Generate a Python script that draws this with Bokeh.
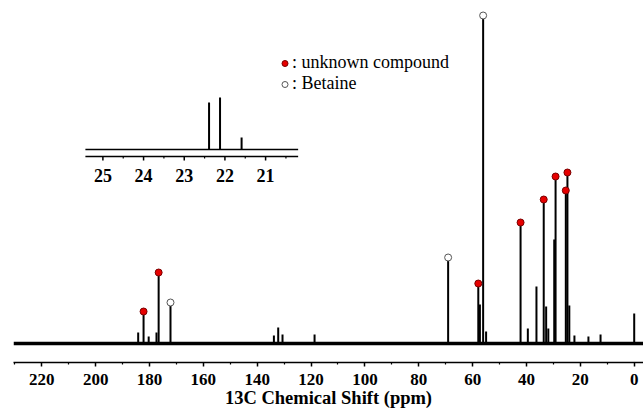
from bokeh.plotting import figure
from bokeh.models import Range1d, FixedTicker, Legend, LegendItem
from bokeh.embed import file_html
from bokeh.resources import INLINE
from bokeh.core.properties import value

# ---------------- data ----------------
unknown_ppm = [182.2, 176.6, 57.9, 42.2, 33.6, 29.2, 25.4, 24.8]
unknown_int = [32, 71, 60, 121, 144, 167, 153, 171]

betaine_ppm = [172.2, 69.1, 56.1]
betaine_int = [41, 86, 328]

other_ppm = [184.2, 180.3, 177.4, 133.8, 132.2, 130.6, 118.7, 57.3, 55.0,
             39.5, 36.3, 32.7, 31.9, 29.7, 24.1, 22.2, 17.0, 12.5, 0.0]
other_int = [11, 7, 11, 8, 16, 9, 9, 39, 12,
             15, 57, 37, 15, 104, 38, 8, 7, 9, 30]

x_ticks = [220, 200, 180, 160, 140, 120, 100, 80, 60, 40, 20, 0]
x_minor = [230, 210, 190, 170, 150, 130, 110, 90, 70, 50, 30, 10]

inset_ppm = [22.39, 22.12, 21.59]
inset_int = [47, 52, 12]
inset_ticks = [25, 24, 23, 22, 21]
inset_minor = [24.5, 23.5, 22.5, 21.5, 20.5]
inset_span = [25.43, 20.20]

legend_labels = [": unknown compound", ": Betaine"]
x_title = "13C Chemical Shift (ppm)"

# ---------------- layout ----------------
X_START, X_END = 230.5, -3.45
Y_START, Y_END = -19, 343
INSET_MAIN_X = (203.8, 124.8)   # main-axis span covered by inset
INSET_BASE_Y = 194              # main intensity where inset baseline sits

SERIF = "Liberation Serif"

p = figure(width=643, height=410, output_backend="svg", toolbar_location=None,
           x_range=Range1d(X_START, X_END), y_range=Range1d(Y_START, Y_END),
           y_axis_location=None,
           min_border_left=13, min_border_right=0, min_border_top=0,
           min_border_bottom=48)
p.grid.visible = False
p.outline_line_color = None
p.background_fill_color = "white"

ax = p.xaxis[0]
ax.ticker = FixedTicker(ticks=x_ticks, minor_ticks=x_minor)
ax.axis_line_width = 1.5
ax.axis_line_color = "black"
ax.major_tick_in = 0
ax.major_tick_out = 4
ax.minor_tick_in = 0
ax.minor_tick_out = 2
ax.major_tick_line_width = 1.5
ax.minor_tick_line_width = 1.2
ax.major_label_text_font = SERIF
ax.major_label_text_font_style = "bold"
ax.major_label_text_font_size = "17px"
ax.major_label_text_color = "black"
ax.major_label_standoff = 7
ax.axis_label = x_title
ax.axis_label_text_font = SERIF
ax.axis_label_text_font_style = "bold"
ax.axis_label_text_font_size = "18.5px"
ax.axis_label_text_color = "black"
ax.axis_label_standoff = 0

# main spectrum
p.line([X_START, X_END], [0, 0], line_color="black", line_width=3.5)
p.segment(x0=other_ppm, y0=[0] * len(other_ppm), x1=other_ppm, y1=other_int,
          line_color="black", line_width=2)
p.segment(x0=unknown_ppm, y0=[0] * len(unknown_ppm), x1=unknown_ppm, y1=unknown_int,
          line_color="black", line_width=2)
p.segment(x0=betaine_ppm, y0=[0] * len(betaine_ppm), x1=betaine_ppm, y1=betaine_int,
          line_color="black", line_width=2)

r_unk = p.scatter(unknown_ppm, unknown_int, size=7, marker="circle",
                  fill_color="#e60000", line_color="#7a0000", line_width=1)
r_bet = p.scatter(betaine_ppm, betaine_int, size=7, marker="circle",
                  fill_color="white", line_color="#555555", line_width=1)

# inset (own ranges)
k = (INSET_MAIN_X[0] - INSET_MAIN_X[1]) / (inset_span[0] - inset_span[1])
ix_start = inset_span[0] + (X_START - INSET_MAIN_X[0]) / k
ix_end = inset_span[1] - (INSET_MAIN_X[1] - X_END) / k
p.extra_x_ranges = {"inset": Range1d(ix_start, ix_end)}
p.extra_y_ranges = {"inset": Range1d(Y_START - INSET_BASE_Y, Y_END - INSET_BASE_Y)}
kw = dict(x_range_name="inset", y_range_name="inset")

p.line(inset_span, [0, 0], line_color="black", line_width=1.5, **kw)
p.segment(x0=inset_ppm, y0=[0] * len(inset_ppm), x1=inset_ppm, y1=inset_int,
          line_color="black", line_width=2, **kw)
p.line(inset_span, [-7, -7], line_color="black", line_width=1.5, **kw)
p.segment(x0=inset_ticks, y0=[-7] * len(inset_ticks), x1=inset_ticks,
          y1=[-11] * len(inset_ticks), line_color="black", line_width=1.5, **kw)
p.segment(x0=inset_minor, y0=[-7] * len(inset_minor), x1=inset_minor,
          y1=[-9] * len(inset_minor), line_color="black", line_width=1.2, **kw)
p.text(inset_ticks, [-26] * len(inset_ticks), text=[str(t) for t in inset_ticks],
       text_align="center", text_baseline="middle", text_font=value(SERIF),
       text_font_style="bold", text_font_size="18px", text_color="black", **kw)

legend = Legend(items=[LegendItem(label=legend_labels[0], renderers=[r_unk]),
                       LegendItem(label=legend_labels[1], renderers=[r_bet])],
                location=(264, 268), orientation="vertical",
                background_fill_alpha=0, border_line_color=None,
                padding=0, margin=0, spacing=-1,
                glyph_width=15, glyph_height=20, label_height=20,
                label_standoff=-7, label_text_font=SERIF,
                label_text_font_size="18px", label_text_color="black")
p.add_layout(legend)

open("out.html", "w").write(file_html(p, INLINE))
